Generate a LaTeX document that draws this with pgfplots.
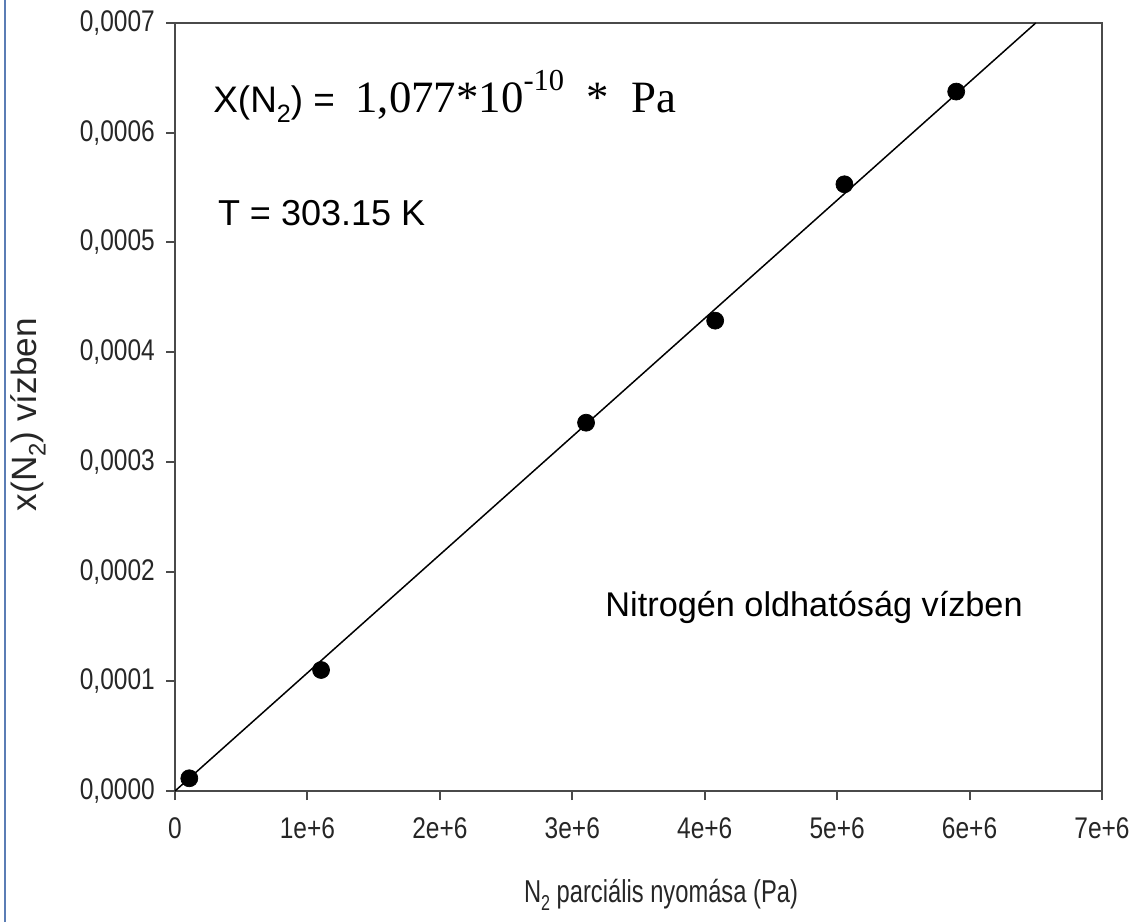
\documentclass[border=0pt]{standalone}
\usepackage{fontspec}
\setmainfont{Liberation Sans}
\newfontfamily\narrowfont{Liberation Sans}[FakeStretch=0.82]
\newfontfamily\labelfont{Liberation Sans}[FakeStretch=0.75]
\newfontfamily\timesfont{Liberation Serif}
\usepackage{pgfplots}
\pgfplotsset{compat=1.18}
\definecolor{axisgrey}{HTML}{4A4A4A}
\definecolor{frameblue}{HTML}{5B7DB5}
\newcommand{\lowsub}[1]{\raisebox{-0.5ex}{\scalebox{0.68}{#1}}}
\newcommand{\highsup}[1]{\raisebox{1.1ex}{\scalebox{0.68}{#1}}}

\begin{document}
\begin{tikzpicture}
% one pixel of the reference is 0.02cm
\useasboundingbox (0,0) rectangle (22.7cm,18.44cm);
\draw[frameblue,line width=0.04cm] (0.1cm,0) -- (0.1cm,18.44cm);
\begin{axis}[
  at={(3.5cm,2.62cm)}, anchor=south west,
  scale only axis, width=18.54cm, height=15.36cm,
  xmin=0, xmax=7e6, ymin=0, ymax=0.0007,
  xtick={0,1e6,2e6,3e6,4e6,5e6,6e6,7e6},
  xticklabels={0,1e+6,2e+6,3e+6,4e+6,5e+6,6e+6,7e+6},
  ytick={0,0.0001,0.0002,0.0003,0.0004,0.0005,0.0006,0.0007},
  yticklabels={{0,0000},{0,0001},{0,0002},{0,0003},{0,0004},{0,0005},{0,0006},{0,0007}},
  scaled x ticks=false, scaled y ticks=false,
  tick align=outside, tick pos=left,
  major tick length=0.18cm,
  axis line style={axisgrey,line width=0.05cm},
  every tick/.style={axisgrey,line width=0.04cm},
  tick label style={font=\narrowfont\fontsize{17}{19}\selectfont,text=black!85},
  xticklabel style={yshift=-0.22cm},
  yticklabel style={xshift=-0.1cm},
  xlabel={N\lowsub{2} parciális nyomása (Pa)},
  ylabel={x(N\lowsub{2}) vízben},
  label style={text=black!85},
  xlabel style={at={(axis description cs:0.5,0)},anchor=center,yshift=-2.08cm,xshift=0.45cm,
                font=\labelfont\fontsize{18}{20}\selectfont},
  ylabel style={at={(axis description cs:0,0.49)},anchor=center,yshift=2.94cm,
                font=\fontsize{20}{22}\selectfont},
  clip=false,
]
% fitted line, x = 1.077e-10 * p, through the origin up to the top of the axis
\addplot[black,line width=0.03cm,no marks] coordinates {(0,0) (6.4995e6,0.0007)};
% measured points
\addplot[only marks,mark=*,mark size=0.17cm,black] coordinates {
  (1.08e5,1.16e-5) (1.103e6,1.103e-4) (3.104e6,3.357e-4)
  (4.079e6,4.287e-4) (5.055e6,5.53e-4) (5.899e6,6.375e-4)};
\node[anchor=base west,inner sep=0pt,font=\fontsize{21}{24}\selectfont]
  at (rel axis cs:0.041,0.883)
  {X(N\lowsub{2}) = \ {\timesfont\fontsize{25.5}{28}\selectfont 1,077*10\highsup{-10} \ * \ Pa}};
\node[anchor=base west,inner sep=0pt,font=\fontsize{20.5}{24}\selectfont]
  at (rel axis cs:0.046,0.736) {T = 303.15 K};
\node[anchor=base west,inner sep=0pt,font=\fontsize{19.5}{23}\selectfont]
  at (rel axis cs:0.464,0.2266) {Nitrogén oldhatóság vízben};
\end{axis}
\end{tikzpicture}
\end{document}
